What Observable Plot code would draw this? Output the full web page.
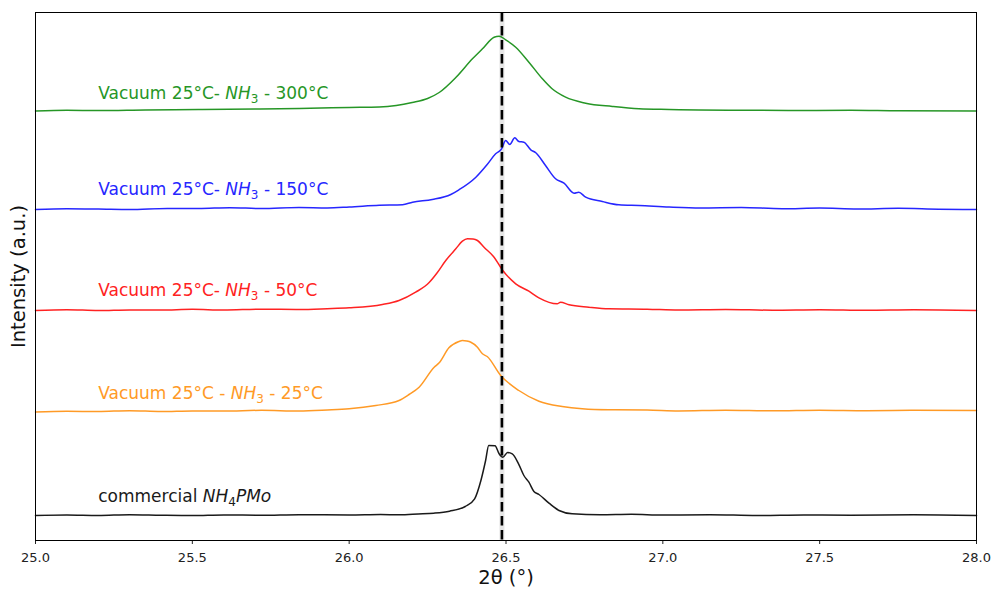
<!DOCTYPE html>
<html>
<head>
<meta charset="utf-8">
<script src="https://cdn.jsdelivr.net/npm/d3@7"></script>
<script src="https://cdn.jsdelivr.net/npm/@observablehq/plot@0.6"></script>
<style>
  html, body { margin: 0; padding: 0; background: #fff; }
  #chart { width: 994px; height: 590px; }
</style>
</head>
<body>
<div id="chart"></div>
<script>
// ---- data (2θ in degrees, intensity in arbitrary units) ----
const xTicks = [25.0, 25.5, 26.0, 26.5, 27.0, 27.5, 28.0];
const refLine = [26.487];

const commercial = [[25.00,25],[25.10,25.5],[25.20,25],[25.30,25.8],[25.40,25.3],[25.50,25],[25.60,25.6],[25.72,25.2],[25.84,25.8],[26.00,25.5],[26.10,26],[26.16,25.7],[26.22,26.5],[26.27,27.3],[26.32,29.3],[26.37,34],[26.40,41.7],[26.42,60],[26.435,80],[26.445,95],[26.465,94.7],[26.478,86.7],[26.49,83.3],[26.505,88],[26.52,86.7],[26.54,76.7],[26.557,65],[26.573,58.3],[26.589,49],[26.605,46],[26.637,37.3],[26.669,30],[26.711,26.7],[26.80,25.7],[26.90,26.2],[27.00,25.5],[27.15,25.8],[27.30,25],[27.45,25.6],[27.60,25.3],[27.80,25.8],[28.00,25]];

const vac25 = [[25.00,128.5],[25.10,129.2],[25.20,129],[25.30,129.8],[25.40,129],[25.50,129.6],[25.60,129.5],[25.72,130.2],[25.84,129.5],[25.93,130.5],[26.00,131.7],[26.085,135],[26.159,140],[26.191,146],[26.223,153.3],[26.271,173.3],[26.287,177.7],[26.318,192.7],[26.35,199],[26.361,200],[26.375,199.5],[26.388,198.3],[26.409,193.3],[26.425,186.7],[26.44,184],[26.483,165],[26.541,150],[26.605,139.3],[26.679,134],[26.743,131.7],[26.828,130.7],[26.95,130.5],[27.05,129.6],[27.20,130.3],[27.35,129.7],[27.50,130.3],[27.65,129.8],[27.80,130.2],[28.00,130]];

const vac50 = [[25.00,230],[25.10,230.8],[25.20,230],[25.30,230.6],[25.40,230.5],[25.50,231.2],[25.60,230.5],[25.72,231.3],[25.84,231],[25.93,231.8],[26.00,232.7],[26.106,236],[26.159,240],[26.212,248.3],[26.255,258],[26.28,267.5],[26.308,280],[26.34,291.7],[26.361,299.3],[26.377,301.7],[26.395,301.5],[26.409,300],[26.43,293.3],[26.462,283.3],[26.488,270.7],[26.531,256.7],[26.573,249.3],[26.605,242.7],[26.663,236.7],[26.674,238.3],[26.701,235.7],[26.764,233.3],[26.828,231.7],[26.95,231.3],[27.05,230.5],[27.20,231],[27.35,230.3],[27.50,230.8],[27.65,230.2],[27.80,230.7],[28.00,230]];

const vac150 = [[25.00,331],[25.10,331.8],[25.20,331.5],[25.30,331],[25.42,332],[25.52,332],[25.62,332.8],[25.72,332],[25.84,333],[25.93,332.6],[26.00,333.5],[26.096,335.2],[26.17,335.8],[26.202,338.3],[26.265,341],[26.324,346],[26.35,350.7],[26.404,363.3],[26.44,376],[26.467,386.7],[26.486,391.7],[26.499,400],[26.512,396],[26.528,402.7],[26.541,399],[26.557,398.3],[26.579,390.7],[26.595,387.7],[26.626,375],[26.658,361.7],[26.685,357.3],[26.717,347.3],[26.732,348.3],[26.754,343.3],[26.807,339],[26.86,335.7],[26.924,335],[27.02,333.5],[27.12,332.6],[27.25,333],[27.38,331.8],[27.50,332.4],[27.62,331.5],[27.75,332.2],[27.88,331.3],[28.00,331]];

const vac300 = [[25.00,429.5],[25.10,430.2],[25.20,430],[25.35,430.6],[25.52,431],[25.70,431.5],[25.841,432],[26.00,433],[26.096,433.5],[26.15,435],[26.201,438],[26.25,442],[26.287,448],[26.34,463],[26.393,481.7],[26.425,491.7],[26.462,503.3],[26.478,504.3],[26.499,500.7],[26.531,493.3],[26.573,478.3],[26.616,461.7],[26.647,451.7],[26.69,443.3],[26.754,437.3],[26.839,434],[26.924,431.7],[27.02,431],[27.115,430.5],[27.27,430.3],[27.433,430],[27.6,430.2],[27.752,429.7],[28.00,429.5]];

const seriesNames = ["commercial", "vac25", "vac50", "vac150", "vac300"];
const seriesData = [commercial, vac25, vac50, vac150, vac300];
const seriesColors = ["#1a1a1a", "#ff9a26", "#ff2222", "#2626ff", "#269626"];

// label text segments: [text, style] where "n" normal, "i" italic, "s" subscript
const labelSegments = [
  [["commercial ", "n"], ["NH", "i"], ["4", "s"], ["PMo", "i"]],
  [["Vacuum 25°C - ", "n"], ["NH", "i"], ["3", "s"], [" - 25°C", "n"]],
  [["Vacuum 25°C- ", "n"], ["NH", "i"], ["3", "s"], [" - 50°C", "n"]],
  [["Vacuum 25°C- ", "n"], ["NH", "i"], ["3", "s"], [" - 150°C", "n"]],
  [["Vacuum 25°C- ", "n"], ["NH", "i"], ["3", "s"], [" - 300°C", "n"]]
];
const labelX = [25.2, 25.2, 25.2, 25.2, 25.2];
const labelY = [44, 147, 250, 351, 447];

// ---- build tables ----
const lineRows = seriesData.flatMap((pts, i) =>
  pts.map(([x, y]) => ({x, y, series: seriesNames[i]})));
const labelRows = labelSegments.map((segs, i) => ({
  x: labelX[i], y: labelY[i], color: seriesColors[i],
  text: segs.map(s => s[0]).join(""), segs
}));

const plot = Plot.plot({
  width: 994,
  height: 590,
  marginTop: 12,
  marginBottom: 50,
  marginLeft: 35,
  marginRight: 18,
  style: {fontFamily: "DejaVu Sans, sans-serif", fontSize: "13px", background: "#fff", color: "#222"},
  x: {domain: [25, 28], label: null, ticks: xTicks, tickFormat: d3.format(".1f"), tickSize: 4, tickPadding: 8},
  y: {domain: [0, 528], axis: null},
  color: {domain: seriesNames, range: seriesColors},
  marks: [
    Plot.ruleX(refLine, {stroke: "#dcdcdc", strokeWidth: 5, strokeOpacity: 0.7}),
    Plot.line(lineRows, {x: "x", y: "y", z: "series", stroke: "series", strokeWidth: 1.5, curve: "monotone-x"}),
    Plot.ruleX(refLine, {stroke: "#000", strokeWidth: 2.6, strokeDasharray: "9.5,4.5"}),
    Plot.text(labelRows, {x: "x", y: "y", text: "text", fill: "color", textAnchor: "start", fontSize: 17}),
    Plot.text(["Intensity (a.u.)"], {frameAnchor: "left", textAnchor: "middle", dx: -17, rotate: -90, fontSize: 19.5, fill: "#111"}),
    Plot.text(["2θ (°)"], {frameAnchor: "bottom", textAnchor: "middle", dy: 43, fontSize: 19.5, fill: "#111"}),
    Plot.frame({stroke: "#000", strokeWidth: 1})
  ]
});

// style labels with italic and subscripts
const byText = new Map(labelRows.map(r => [r.text, r]));
plot.querySelectorAll("text").forEach(t => {
  const row = byText.get(t.textContent);
  if (!row) return;
  while (t.firstChild) t.removeChild(t.firstChild);
  let shifted = false;
  row.segs.forEach(([s, st]) => {
    const ts = document.createElementNS("http://www.w3.org/2000/svg", "tspan");
    ts.textContent = s;
    if (st === "i") ts.setAttribute("font-style", "italic");
    if (st === "s") {
      ts.setAttribute("font-size", "12");
      ts.setAttribute("dy", "4");
      shifted = true;
    } else if (shifted) {
      ts.setAttribute("dy", "-4");
      shifted = false;
    }
    t.appendChild(ts);
  });
});

document.getElementById("chart").appendChild(plot);
</script>
</body>
</html>
